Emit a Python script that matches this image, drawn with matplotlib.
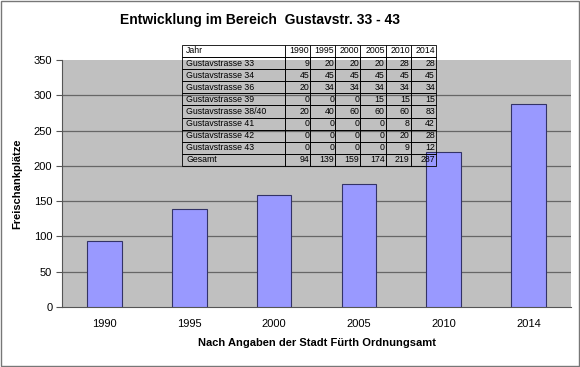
import matplotlib.pyplot as plt
from matplotlib.patches import Rectangle
import numpy as np

plt.rcParams['font.family'] = ['Liberation Sans', 'DejaVu Sans']

years = ['1990', '1995', '2000', '2005', '2010', '2014']
gesamt = [94, 139, 159, 174, 219, 287]

row_names = ['Gustavstrasse 33', 'Gustavstrasse 34', 'Gustavstrasse 36',
             'Gustavstrasse 39', 'Gustavstrasse 38/40', 'Gustavstrasse 41',
             'Gustavstrasse 42', 'Gustavstrasse 43']
g33 = [9, 20, 20, 20, 28, 28]
g34 = [45, 45, 45, 45, 45, 45]
g36 = [20, 34, 34, 34, 34, 34]
g39 = [0, 0, 0, 15, 15, 15]
g38_40 = [20, 40, 60, 60, 60, 83]
g41 = [0, 0, 0, 0, 8, 42]
g42 = [0, 0, 0, 0, 20, 28]
g43 = [0, 0, 0, 0, 9, 12]
rows = [g33, g34, g36, g39, g38_40, g41, g42, g43]

fig = plt.figure(figsize=(5.8, 3.67), dpi=100)
ax = fig.add_axes([0.1069, 0.1635, 0.8776, 0.673])
ax.set_facecolor('#c0c0c0')

x = np.arange(len(years))
ax.bar(x, gesamt, width=0.41, color='#9999ff', edgecolor='#333366', linewidth=0.8, zorder=3)

ax.set_xlim(-0.5, len(years) - 0.5)
ax.set_ylim(0, 350)
ax.set_yticks(range(0, 351, 50))
ax.set_xticks(x)
ax.set_xticklabels(years)
ax.tick_params(axis='x', length=0, labelsize=8, pad=9)
ax.tick_params(axis='y', length=4, color='#555555', labelsize=8, pad=3)
for y in range(50, 301, 50):
    ax.axhline(y, color='#666666', linewidth=0.9, zorder=1)
for s in ['top', 'right']:
    ax.spines[s].set_visible(False)
ax.spines['left'].set_color('#555555')
ax.spines['bottom'].set_color('#555555')

ax.set_ylabel('Freischankplätze', fontsize=8, fontweight='bold', labelpad=8)
ax.set_xlabel('Nach Angaben der Stadt Fürth Ordnungsamt', fontsize=8, fontweight='bold', labelpad=6)
fig.text(0.448, 0.945, 'Entwicklung im Bereich  Gustavstr. 33 - 43', ha='center', va='center',
         fontsize=10, fontweight='bold')

# table
cell_text = [['Jahr'] + years]
for name, r in zip(row_names, rows):
    cell_text.append([name] + [str(v) for v in r])
cell_text.append(['Gesamt'] + [str(v) for v in gesamt])

tab = ax.table(cellText=cell_text, bbox=[0.2358, 0.571, 0.499, 0.49], zorder=5)
tab.auto_set_font_size(False)
col_w = [103] + [25.2] * 6
for (r, c), cell in tab.get_celld().items():
    cell.set_width(col_w[c] / sum(col_w))
    cell.set_linewidth(0.6)
    cell.set_edgecolor('black')
    cell.set_facecolor('white' if r == 0 else 'none')
    cell.get_text().set_fontsize(6.3)
    cell.PAD = 0.04
    if c == 0:
        cell.get_text().set_ha('left')
        cell._loc = 'left'
    else:
        cell.get_text().set_ha('right')
        cell._loc = 'right'

fig.patches.append(Rectangle((0.001, 0.002), 0.997, 0.995, transform=fig.transFigure,
                             fill=False, edgecolor='#777777', linewidth=1))

fig.savefig('out.png', dpi=100)
